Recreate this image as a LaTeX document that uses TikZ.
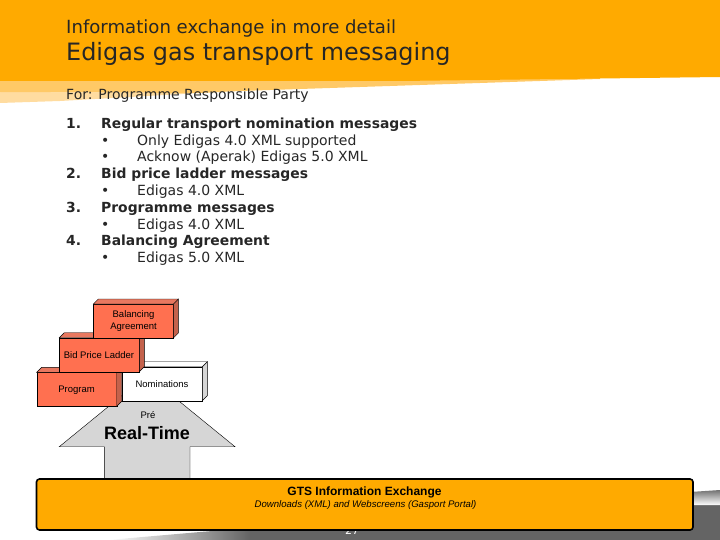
\documentclass[tikz,border=0pt]{standalone}
\usepackage{xcolor}
\usepackage{fontspec}
\setmainfont{DejaVu Sans}
\newfontfamily\blockfont{Liberation Sans}
\usetikzlibrary{positioning,calc,shadings}
\definecolor{headorange}{HTML}{FFAA00}
\definecolor{headlight}{HTML}{FFC966}
\definecolor{headpale}{HTML}{FFDCA0}
\definecolor{blockred}{HTML}{FF7050}
\definecolor{blocktop}{HTML}{E87860}
\definecolor{blockside}{HTML}{C4624C}
\definecolor{arrowgrey}{HTML}{D6D6D6}
\definecolor{footgrey}{HTML}{646464}

\begin{document}
\begin{tikzpicture}[
					x = 1pt,
					y = -1pt,
					txt/.style = {anchor = base west, inner sep = 0pt, text = black!85, font = \fontsize{14}{14}\selectfont},
					num/.style = {txt, font = \fontsize{13.9}{14}\selectfont\bfseries},
					blocklabel/.style = {inner sep = 0pt, align = center, font = \blockfont\fontsize{9.5}{12}\selectfont}
					]

					\useasboundingbox (0,0) rectangle (720,540);

					% header
					\fill[headpale] (0,92) -- (0,103) -- (60,101) -- (200,93) -- cycle;
					\fill[headlight] (0,80) -- (0,92) -- (200,93) -- (240,91) -- (480,83) -- (600,79) -- (600,76) -- cycle;
					\fill[headorange] (0,0) -- (720,0) -- (720,77) -- (400,81) -- (0,81) -- cycle;
					\node[txt, font = \fontsize{18.1}{18}\selectfont] (subtitle) at (66,33.5) {Information exchange in more detail};
					\node[txt, font = \fontsize{23.9}{24}\selectfont] (title) at (66,60.5) {Edigas gas transport messaging};
					\node[txt] (audience) at (66,100) {For: Programme Responsible Party};

					% list
					\foreach \y/\n/\t in {128.4/1./Regular transport nomination messages,178.4/2./Bid price ladder messages,212.4/3./Programme messages,245.4/4./Balancing Agreement}{
						\node[num] (n\y) at (66,\y) {\n};
						\node[num] (h\y) at (101,\y) {\t};
					}
					\foreach \y/\t in {145.4/Only Edigas 4.0 XML supported,161.4/Acknow (Aperak) Edigas 5.0 XML,195.4/Edigas 4.0 XML,229.4/Edigas 4.0 XML,262.4/Edigas 5.0 XML}{
						\node[txt] (b\y) at (101,\y) {•};
						\node[txt] (s\y) at (137,\y) {\t};
					}

					% footer band
					\shade[left color = white, right color = footgrey] (108,540) -- (200,532) -- (250,528) -- (250,540) -- cycle;
					\fill[footgrey] (250,528) -- (690,505) -- (720,505) -- (720,540) -- (250,540) -- cycle;
					\shade[top color = black!55, bottom color = white] (690,492) -- (720,490) -- (720,505) -- (690,505) -- cycle;
					\node[inner sep = 0pt, text = white, font = \fontsize{11}{11}\selectfont] (pagenum) at (352,530) {27};

					% arrow
					\draw[fill = arrowgrey, thin] (147,375) -- (235,446.7) -- (190,446.7) -- (190,480) -- (104.3,480) -- (104.3,446.7) -- (59.3,446.7) -- cycle;
					\node[blocklabel] (pre) at (148,415) {Pré};
					\node[blocklabel, font = \blockfont\bfseries\fontsize{18}{18}\selectfont] (realtime) at (147,433) {Real-Time};

					% blocks
					\foreach \xa/\ya/\fc/\tc/\sc/\name in {122.3/366.7/white/white/arrowgrey/nom,36.7/372.3/blockred/blocktop/blockside/prog,59.3/337.7/blockred/blocktop/blockside/bid,93.3/304/blockred/blocktop/blockside/bal}{
						\draw[fill = \fc] (\xa,\ya) rectangle ++(80,34);
						\draw[fill = \sc] (\xa+80,\ya) -- ++(5,-5) -- ++(0,34) -- ++(-5,5) -- cycle;
						\draw[fill = \tc] (\xa,\ya) -- ++(5,-5) -- ++(80,0) -- ++(-5,5) -- cycle;
						\coordinate (\name) at (\xa+40,\ya+17);
					}
					\node[blocklabel] (ballabel) at (133.5,321) {Balancing\\Agreement};
					\node[blocklabel] (bidlabel) at (99,355) {Bid Price Ladder};
					\node[blocklabel] (proglabel) at (76.5,390) {Program};
					\node[blocklabel] (nomlabel) at (162,384) {Nominations};

					% exchange box
					\draw[line width = 1.6pt, fill = headorange, rounded corners = 3pt] (36.5,479) rectangle (693,530);
					\node[blocklabel, font = \blockfont\bfseries\fontsize{12}{12}\selectfont] (gts) at (364.5,492) {GTS Information Exchange};
					\node[blocklabel, font = \blockfont\itshape\fontsize{9.6}{10}\selectfont] (downloads) at (365.5,505) {Downloads (XML) and Webscreens (Gasport Portal)};

				\end{tikzpicture}
\end{document}
